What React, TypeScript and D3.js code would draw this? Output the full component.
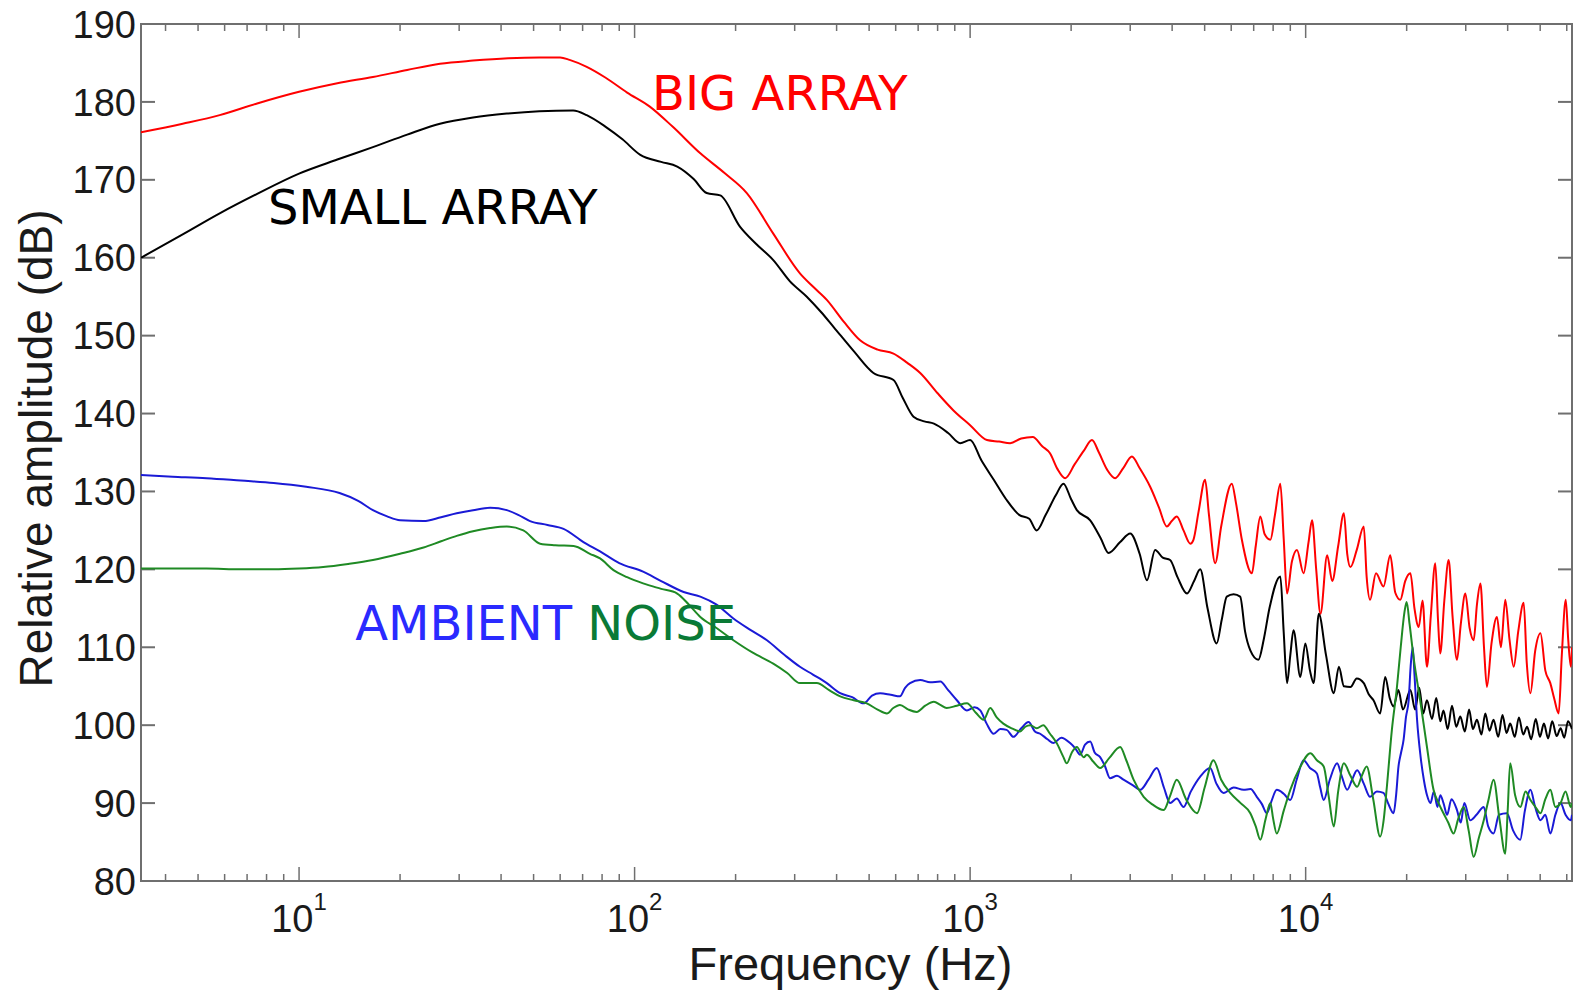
import React from 'react'
import * as d3 from 'd3'

// Frequency (Hz) / relative amplitude (dB)
const bigFreq = [3.38, 4.5, 5.8, 7.5, 10, 13, 16.6, 21, 26.3, 33, 42, 52, 60, 64, 72, 82, 95, 111, 130, 157, 185, 216, 259, 311, 340, 374, 420, 470, 530, 591, 650, 710, 800, 892, 1000, 1122, 1220, 1316, 1420, 1537, 1640, 1730, 1820, 1920, 2050, 2180, 2307, 2420, 2560, 2706, 2860, 3035, 3200, 3440, 3650, 3857, 3990, 4130, 4325, 4530, 4630, 4800, 5015, 5150, 5375, 5600, 6025, 6200, 6455, 6915, 7100, 7325, 7550, 7850, 8100, 8405, 8600, 8800, 9100, 9420, 9860, 10200, 10450, 10750, 11070, 11590, 12000, 12500, 13000, 13300, 13600, 14200, 14900, 15200, 15560, 16200, 17060, 17870, 18500, 19150, 19800, 20520, 21100, 21730, 22300, 22990, 23600, 24340, 24800, 25180, 25900, 26680, 27400, 28250, 29000, 29920, 30800, 31680, 32400, 33180, 34000, 34690, 35800, 37160, 38200, 39350, 40500, 41700, 43000, 44650, 45600, 46770, 48300, 50100, 51800, 53600, 55000, 56770, 58000, 59600, 60600, 61700, 62200]
const bigDb = [176.1, 177.2, 178.3, 179.8, 181.3, 182.4, 183.2, 184.1, 184.9, 185.3, 185.6, 185.7, 185.7, 185.4, 184.5, 183.1, 181.2, 179.4, 176.8, 173.4, 170.9, 168.3, 163.1, 158.0, 156.3, 154.6, 151.8, 149.4, 148.2, 147.7, 146.5, 145.2, 142.6, 140.4, 138.5, 136.6, 136.4, 136.2, 136.8, 137.0, 135.8, 134.9, 132.9, 131.7, 133.5, 135.2, 136.6, 135.0, 132.8, 131.7, 133.0, 134.5, 133.0, 130.6, 128.0, 125.5, 126.2, 126.8, 125.0, 123.3, 123.8, 127.5, 131.5, 127.0, 120.8, 125.5, 131.0, 128.5, 123.8, 119.5, 123.0, 126.8, 124.5, 123.8, 127.0, 131.0, 124.0, 116.9, 121.0, 122.5, 119.5, 123.5, 126.3, 120.0, 114.3, 121.8, 118.5, 123.0, 127.2, 122.0, 120.3, 122.5, 125.5, 119.0, 116.1, 119.5, 117.8, 121.8, 117.0, 116.1, 118.5, 119.5, 115.0, 112.6, 116.0, 107.5, 114.0, 120.8, 113.5, 109.2, 116.0, 121.2, 114.0, 108.4, 113.0, 116.9, 112.5, 110.9, 115.5, 118.2, 110.0, 104.9, 110.5, 113.9, 110.0, 116.1, 111.0, 107.5, 112.0, 115.7, 108.0, 104.1, 109.5, 111.8, 107.0, 105.4, 103.5, 101.5, 109.0, 116.1, 111.0, 107.5, 110.0]

const smallFreq = [3.38, 4.5, 5.8, 7.5, 10, 13, 16.6, 21, 26.3, 33, 41.6, 52, 65.6, 72, 82, 92, 104, 120, 134, 150, 164, 180, 206, 230, 259, 290, 326, 360, 392, 450, 515, 591, 630, 678, 730, 780, 860, 934, 1000, 1080, 1176, 1280, 1400, 1500, 1578, 1680, 1800, 1897, 2000, 2080, 2280, 2450, 2586, 2800, 3000, 3200, 3365, 3560, 3750, 3945, 4150, 4430, 4650, 4850, 5100, 5430, 5620, 5820, 6100, 6380, 6600, 6840, 7230, 7500, 7800, 8405, 8600, 8800, 9000, 9200, 9640, 9980, 10300, 10570, 10940, 11500, 12130, 12560, 13000, 13600, 14200, 14900, 15400, 15930, 16670, 17260, 17800, 18280, 18900, 19500, 20520, 21200, 21800, 22400, 22990, 23800, 24500, 25200, 25750, 26500, 27300, 28100, 28900, 29800, 30700, 31500, 32400, 33400, 34300, 35300, 36300, 37500, 38600, 39700, 40700, 42000, 43200, 44500, 45700, 47000, 48500, 49900, 51300, 52800, 54300, 56000, 57500, 59000, 60500, 62200]
const smallDb = [160.0, 163.0, 165.7, 168.2, 170.8, 172.6, 174.2, 175.8, 177.2, 178.0, 178.5, 178.8, 178.9, 178.3, 176.8, 175.2, 173.2, 172.3, 171.7, 170.1, 168.3, 168.0, 164.0, 161.8, 159.7, 157.0, 155.0, 153.0, 151.1, 148.0, 145.2, 144.3, 142.0, 139.6, 139.0, 138.7, 137.5, 136.2, 136.6, 134.0, 131.5, 129.0, 127.0, 126.5, 125.0, 127.0, 129.5, 131.0, 129.0, 127.6, 126.3, 124.0, 122.1, 123.5, 124.6, 122.0, 118.6, 122.5, 121.5, 121.2, 119.0, 116.9, 118.5, 120.0, 115.0, 110.5, 113.5, 116.5, 116.8, 116.5, 112.0, 109.6, 108.4, 111.0, 115.0, 119.1, 112.0, 105.4, 109.0, 112.2, 106.2, 110.5, 107.0, 105.4, 114.3, 109.0, 104.1, 107.5, 105.0, 104.9, 106.0, 105.4, 104.0, 103.2, 101.5, 106.2, 103.5, 102.4, 104.5, 102.0, 104.5, 102.0, 104.8, 101.5, 103.2, 100.8, 103.5, 100.5, 101.9, 99.5, 102.5, 99.8, 101.1, 99.2, 102.0, 99.5, 100.7, 98.8, 101.5, 99.3, 100.7, 98.5, 101.3, 99.0, 100.2, 98.5, 101.0, 98.8, 99.8, 98.2, 100.8, 98.5, 100.2, 98.3, 100.5, 98.6, 99.6, 98.4, 100.5, 99.5]

const ambientFreq = [3.38, 4.2, 5.3, 6.7, 8.4, 10.5, 13.2, 15, 16.6, 18.3, 20, 23.5, 26.5, 29.5, 33, 37.1, 41.6, 45, 48.8, 55, 61.4, 70.4, 78.9, 90, 106, 120, 140, 157, 175, 197, 220, 248, 280, 311, 340, 374, 410, 445, 481, 510, 539, 580, 618, 640, 662, 710, 760, 815, 860, 913, 978, 1030, 1072, 1120, 1176, 1230, 1285, 1346, 1420, 1493, 1560, 1617, 1700, 1772, 1870, 1986, 2060, 2128, 2200, 2280, 2350, 2440, 2520, 2612, 2740, 2865, 3050, 3213, 3400, 3600, 3780, 3945, 4130, 4325, 4550, 4850, 5190, 5420, 5690, 6100, 6530, 6850, 7150, 7400, 7660, 7900, 8200, 8600, 9000, 9400, 9860, 10300, 10800, 11050, 11320, 11800, 12410, 12800, 13300, 13750, 14240, 14900, 15560, 16300, 17060, 17600, 18280, 18600, 18910, 19250, 19580, 19900, 20280, 20550, 20850, 21100, 21480, 22000, 22500, 23000, 23560, 24100, 24700, 25200, 25750, 26400, 27200, 28250, 29000, 29700, 30950, 32300, 33950, 35000, 36300, 37700, 39800, 41500, 43600, 45000, 46770, 48300, 50100, 51800, 53600, 55500, 57500, 59500, 61700, 62200]
const ambientDb = [132.1, 131.9, 131.7, 131.4, 131.1, 130.6, 129.8, 128.8, 127.6, 126.8, 126.3, 126.2, 126.7, 127.2, 127.6, 127.9, 127.6, 127.0, 126.2, 125.7, 125.2, 123.5, 122.3, 120.8, 119.7, 118.5, 117.1, 116.5, 115.5, 113.7, 112.3, 110.9, 109.0, 107.5, 106.5, 105.4, 104.1, 103.6, 102.8, 103.8, 104.1, 103.9, 103.7, 104.8, 105.4, 105.8, 105.5, 105.6, 104.5, 103.2, 101.9, 102.3, 101.9, 100.2, 98.9, 99.5, 99.4, 98.5, 99.6, 100.4, 99.2, 98.9, 98.2, 97.7, 98.4, 97.7, 97.0, 96.2, 97.5, 97.9, 96.5, 95.9, 94.8, 93.2, 93.5, 93.0, 92.3, 91.7, 93.0, 94.5, 92.0, 90.0, 90.6, 89.5, 91.5, 93.4, 94.5, 92.5, 91.3, 92.0, 91.7, 91.8, 90.8, 89.9, 88.7, 90.2, 91.7, 91.2, 90.4, 93.0, 95.5, 94.5, 93.8, 92.0, 90.4, 93.0, 95.1, 93.5, 91.7, 93.0, 94.2, 92.5, 90.8, 91.5, 91.3, 90.0, 88.7, 91.0, 94.7, 96.5, 98.1, 101.0, 103.2, 107.5, 110.0, 106.5, 100.7, 96.0, 93.0, 91.0, 90.0, 91.5, 89.5, 91.0, 90.0, 88.5, 90.5, 89.1, 87.5, 90.0, 87.8, 88.5, 89.5, 87.0, 86.1, 88.5, 88.7, 86.5, 85.3, 89.0, 91.7, 89.5, 87.8, 88.5, 86.1, 88.5, 90.0, 88.5, 87.8, 88.5]

const noiseFreq = [3.38, 4.2, 5.3, 6.7, 8.4, 10, 11.8, 14, 16.6, 20, 23.5, 26.5, 29.5, 33, 37.1, 41.6, 46.6, 52.3, 58, 65.8, 73.6, 78.9, 86.5, 95, 106, 120, 134, 145, 157, 175, 197, 225, 259, 285, 311, 330, 349, 380, 410, 450, 492, 530, 565, 590, 618, 655, 693, 735, 780, 815, 851, 913, 978, 1040, 1097, 1148, 1200, 1256, 1330, 1409, 1460, 1511, 1580, 1652, 1730, 1811, 1897, 1940, 2010, 2080, 2180, 2228, 2330, 2440, 2600, 2800, 2920, 3070, 3290, 3500, 3775, 3950, 4130, 4400, 4745, 5000, 5310, 5600, 5960, 6400, 6840, 7100, 7325, 7600, 7850, 8000, 8200, 8600, 9000, 9600, 10330, 10800, 11320, 11700, 12130, 12500, 13000, 13600, 14240, 14700, 15200, 15900, 16670, 17100, 17460, 18070, 18710, 19200, 19700, 20000, 20400, 21000, 21940, 22990, 24050, 24900, 25750, 26600, 27600, 28500, 29580, 30600, 31680, 32800, 33950, 35100, 36300, 37800, 39350, 40000, 40700, 42100, 43650, 45200, 46770, 48400, 50100, 51800, 53600, 55500, 57500, 59500, 61700, 62200]
const noiseDb = [120.1, 120.1, 120.1, 120.0, 120.0, 120.1, 120.3, 120.7, 121.2, 122.0, 122.8, 123.6, 124.3, 124.9, 125.3, 125.5, 125.0, 123.3, 123.1, 123.0, 122.0, 121.4, 119.9, 119.0, 118.2, 117.5, 116.9, 115.5, 113.9, 112.5, 110.9, 109.3, 107.9, 106.7, 105.4, 105.4, 105.4, 104.5, 103.7, 103.2, 102.8, 102.0, 101.5, 102.2, 102.6, 102.0, 101.7, 102.5, 103.0, 102.6, 102.2, 102.5, 102.8, 101.6, 100.7, 102.2, 101.0, 100.2, 99.6, 99.2, 99.8, 100.0, 99.6, 100.0, 98.9, 97.7, 95.9, 95.1, 96.5, 97.2, 95.9, 96.2, 95.3, 94.5, 95.8, 97.2, 95.5, 93.0, 90.8, 89.8, 89.1, 91.0, 93.0, 90.5, 88.7, 92.0, 95.5, 93.0, 91.3, 90.0, 88.7, 87.0, 85.3, 88.0, 90.0, 88.0, 86.1, 89.0, 91.7, 94.5, 96.4, 95.5, 94.7, 91.0, 87.0, 91.5, 95.1, 93.5, 92.1, 93.5, 94.7, 90.5, 85.7, 88.0, 92.1, 99.4, 104.9, 110.0, 114.5, 115.8, 113.0, 108.5, 103.2, 97.2, 91.7, 90.0, 88.7, 87.5, 86.1, 88.0, 89.5, 86.5, 83.1, 85.5, 87.8, 90.5, 93.0, 88.0, 83.5, 89.0, 95.1, 91.0, 89.5, 91.5, 90.4, 89.5, 88.7, 90.5, 91.7, 89.5, 90.0, 91.5, 89.5, 90.0]

const yTicks = [80, 90, 100, 110, 120, 130, 140, 150, 160, 170, 180, 190]
const decades = [10, 100, 1000, 10000]

const W = 1574
const H = 993
const left = 141
const right = 1572
const top = 24
const bottom = 881

const axisColor = '#6f6f6f'
const tickFont = '"Liberation Sans", Arial, sans-serif'
const noteFont = '"DejaVu Sans", sans-serif'

export default function App() {
  const x = d3.scaleLog().domain([3.38, 62200]).range([left, right])
  const y = d3.scaleLinear().domain([80, 190]).range([bottom, top])

  const makeLine = (fs: number[], vs: number[]) =>
    d3.line<number>()
      .x((_, i) => x(fs[i]))
      .y(d => y(d))
      .curve(d3.curveMonotoneX)(vs) || ''

  // minor ticks 2..9 per decade inside the domain
  const [d0, d1] = x.domain()
  const minor: number[] = []
  for (let e = 0; e <= 4; e++) {
    for (let k = 2; k <= 9; k++) {
      const v = k * Math.pow(10, e)
      if (v > d0 && v < d1) minor.push(v)
    }
  }

  const series = [
    { f: bigFreq, v: bigDb, color: '#ff0000' },
    { f: smallFreq, v: smallDb, color: '#000000' },
    { f: ambientFreq, v: ambientDb, color: '#1a1ad6' },
    { f: noiseFreq, v: noiseDb, color: '#1f8a24' },
  ]

  return (
    <svg width={W} height={H} style={{ position: 'absolute', left: 0, top: 0, background: '#fff' }}>
      <defs>
        <clipPath id="plot">
          <rect x={left} y={top} width={right - left} height={bottom - top} />
        </clipPath>
      </defs>

      {/* frame */}
      <rect x={left} y={top} width={right - left} height={bottom - top} fill="none" stroke={axisColor} strokeWidth={2} />

      {/* y ticks, both sides */}
      {yTicks.map(t => (
        <g key={'y' + t}>
          <line x1={left} x2={left + 14} y1={y(t)} y2={y(t)} stroke={axisColor} strokeWidth={2} />
          <line x1={right - 14} x2={right} y1={y(t)} y2={y(t)} stroke={axisColor} strokeWidth={2} />
          <text x={left - 5} y={y(t)} dy="0.36em" textAnchor="end" fontFamily={tickFont} fontSize={38} fill="#1a1a1a">{t}</text>
        </g>
      ))}

      {/* x ticks, top and bottom */}
      {minor.map(t => (
        <g key={'m' + t}>
          <line x1={x(t)} x2={x(t)} y1={bottom} y2={bottom - 7} stroke={axisColor} strokeWidth={1.5} />
          <line x1={x(t)} x2={x(t)} y1={top} y2={top + 7} stroke={axisColor} strokeWidth={1.5} />
        </g>
      ))}
      {decades.map((t, i) => (
        <g key={'d' + t}>
          <line x1={x(t)} x2={x(t)} y1={bottom} y2={bottom - 14} stroke={axisColor} strokeWidth={1.5} />
          <line x1={x(t)} x2={x(t)} y1={top} y2={top + 14} stroke={axisColor} strokeWidth={1.5} />
          <text x={x(t)} y={bottom + 51} textAnchor="middle" fontFamily={tickFont} fontSize={38} fill="#1a1a1a">
            10<tspan fontSize={24} dy={-22}>{i + 1}</tspan>
          </text>
        </g>
      ))}

      {/* curves */}
      <g clipPath="url(#plot)">
        {series.map((s, i) => (
          <path key={i} d={makeLine(s.f, s.v)} fill="none" stroke={s.color} strokeWidth={2} strokeLinejoin="round" />
        ))}
      </g>

      {/* annotations */}
      <text x={x(112.7)} y={y(179.0)} fontFamily={noteFont} fontSize={48} fill="#ff0000">BIG ARRAY</text>
      <text x={x(8.08)} y={y(164.3)} fontFamily={noteFont} fontSize={48} fill="#000000">SMALL ARRAY</text>
      <text x={x(14.7)} y={y(110.9)} fontFamily={noteFont} fontSize={48}>
        <tspan fill="#2a2aff">AMBIENT </tspan>
        <tspan fill="#0a7a36">NOISE</tspan>
      </text>

      {/* axis titles */}
      <text x={(left + right) / 2 - 6} y={980} textAnchor="middle" fontFamily={tickFont} fontSize={47} fill="#1a1a1a">Frequency (Hz)</text>
      <text transform={`translate(52,${(top + bottom) / 2 - 4}) rotate(-90)`} textAnchor="middle" fontFamily={tickFont} fontSize={46} fill="#1a1a1a">Relative amplitude (dB)</text>
    </svg>
  )
}
